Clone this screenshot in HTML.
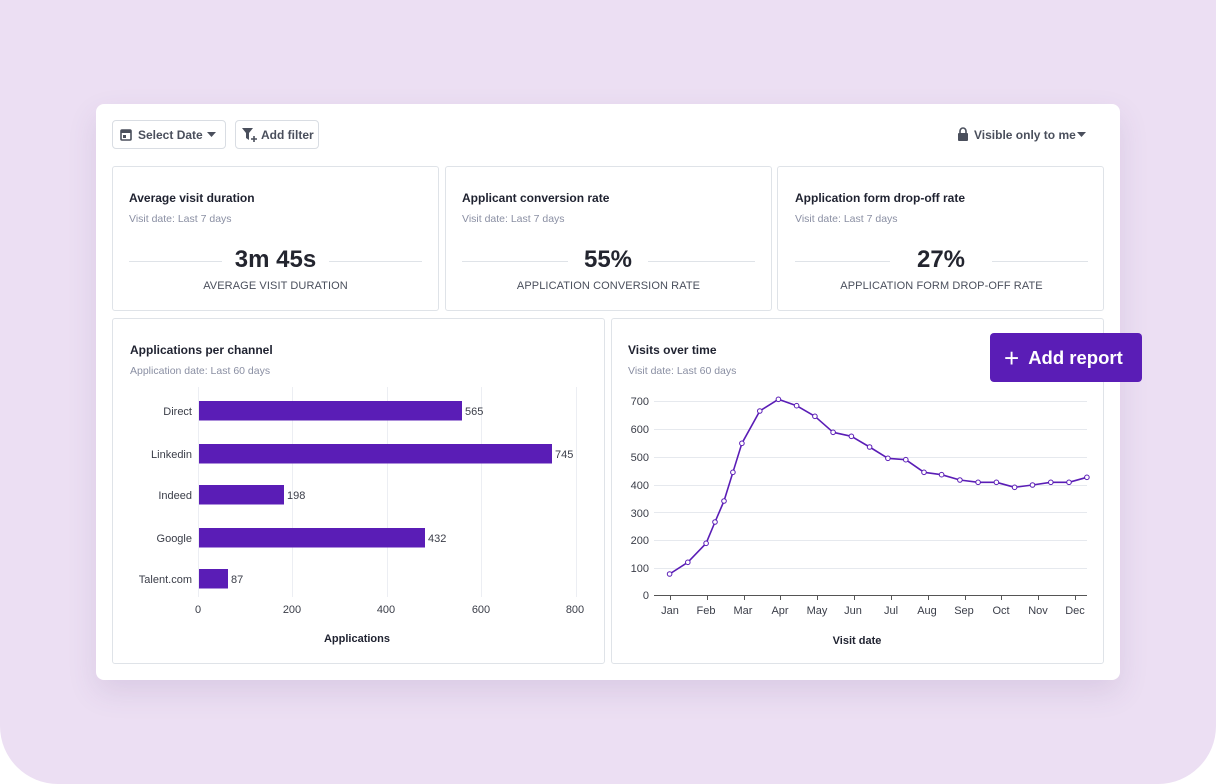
<!DOCTYPE html>
<html><head><meta charset="utf-8"><style>
html,body{margin:0;padding:0;width:1216px;height:784px;background:#fff;overflow:hidden}
body{font-family:"Liberation Sans",sans-serif;position:relative}
.bg{position:absolute;left:0;top:0;width:1216px;height:784px;background:#ecdff3;border-radius:0 0 58px 58px}
.card{position:absolute;left:96px;top:104px;width:1024px;height:576px;background:#fff;border-radius:8px;box-shadow:0 12px 30px rgba(90,60,120,.12)}
.btn{position:absolute;top:120px;height:29px;border:1px solid #d9dde3;border-radius:4px;background:#fff;font-size:12px;color:#4a4f5c;font-weight:bold;line-height:29px;box-sizing:border-box}
.box{position:absolute;border:1px solid #dfe3e8;border-radius:3px;background:#fff;box-sizing:border-box}
.t{position:absolute;font-size:12px;font-weight:bold;color:#1f2230}
.s{position:absolute;font-size:10.5px;color:#8a8fa3}
.big{position:absolute;font-size:24px;font-weight:bold;color:#23252f;text-align:center}
.lab{position:absolute;font-size:11px;color:#4a4f5c;text-align:center;letter-spacing:.1px}
.hl{position:absolute;height:1px;background:#dfe3e8}
.add{position:absolute;left:990px;top:333px;width:152px;height:49px;background:#5a1db6;border-radius:4px;color:#fff;font-size:18.5px;font-weight:bold;line-height:49px;box-sizing:border-box;padding-left:14px}
</style></head><body>
<div class="bg"></div>
<div class="card"></div>
<div class="btn" style="left:112px;width:114px;padding-left:25px">Select Date</div>
<svg style="position:absolute;left:120px;top:128px" width="12" height="13"><rect x="1" y="2" width="10" height="10" rx="1" fill="none" stroke="#4a4f5c" stroke-width="1.6"/><rect x="1" y="2" width="10" height="3" fill="#4a4f5c"/><rect x="3" y="7" width="3" height="3" fill="#4a4f5c"/></svg>
<svg style="position:absolute;left:207px;top:132px" width="10" height="6"><path d="M0 0h9L4.5 5z" fill="#4a4f5c"/></svg>
<div class="btn" style="left:235px;width:84px;padding-left:25px">Add filter</div>
<svg style="position:absolute;left:242px;top:127px" width="16" height="16"><path d="M0 1h11L7 6v7L4 11V6z" fill="#4a4f5c"/><path d="M12 9v6M9 12h6" stroke="#4a4f5c" stroke-width="1.6"/></svg>
<svg style="position:absolute;left:957px;top:127px" width="12" height="15"><path d="M3 6V4a3 3 0 0 1 6 0v2" fill="none" stroke="#4a4f5c" stroke-width="1.6"/><rect x="1" y="6" width="10" height="8" rx="1" fill="#4a4f5c"/></svg>
<div style="position:absolute;left:974px;top:128px;font-size:12px;font-weight:bold;color:#4a4f5c">Visible only to me</div>
<svg style="position:absolute;left:1077px;top:132px" width="10" height="6"><path d="M0 0h9L4.5 5z" fill="#4a4f5c"/></svg>

<div class="box" style="left:112px;top:166px;width:327px;height:145px"></div>
<div class="box" style="left:445px;top:166px;width:327px;height:145px"></div>
<div class="box" style="left:777px;top:166px;width:327px;height:145px"></div>
<div class="t" style="left:129px;top:191px">Average visit duration</div>
<div class="s" style="left:129px;top:213px">Visit date: Last 7 days</div>
<div class="hl" style="left:129px;top:261px;width:293px"></div>
<div class="big" style="left:222px;top:246px;width:107px;background:#fff">3m 45s</div>
<div class="lab" style="left:129px;top:280px;width:293px">AVERAGE VISIT DURATION</div>
<div class="t" style="left:462px;top:191px">Applicant conversion rate</div>
<div class="s" style="left:462px;top:213px">Visit date: Last 7 days</div>
<div class="hl" style="left:462px;top:261px;width:293px"></div>
<div class="big" style="left:568px;top:246px;width:80px;background:#fff">55%</div>
<div class="lab" style="left:462px;top:280px;width:293px">APPLICATION CONVERSION RATE</div>
<div class="t" style="left:795px;top:191px">Application form drop-off rate</div>
<div class="s" style="left:795px;top:213px">Visit date: Last 7 days</div>
<div class="hl" style="left:795px;top:261px;width:293px"></div>
<div class="big" style="left:890px;top:246px;width:102px;background:#fff">27%</div>
<div class="lab" style="left:795px;top:280px;width:293px">APPLICATION FORM DROP-OFF RATE</div>

<div class="box" style="left:112px;top:318px;width:493px;height:346px"></div>
<div class="box" style="left:611px;top:318px;width:493px;height:346px"></div>
<div class="t" style="left:130px;top:343px">Applications per channel</div>
<div class="s" style="left:130px;top:365px">Application date: Last 60 days</div>
<div class="t" style="left:628px;top:343px">Visits over time</div>
<div class="s" style="left:628px;top:365px">Visit date: Last 60 days</div>

<svg style="position:absolute;left:0;top:0" width="1216" height="784" font-family="Liberation Sans, sans-serif" font-size="11" fill="#3a3d48">
<g stroke="#eceef3" stroke-width="1">
<line x1="198.5" y1="387" x2="198.5" y2="597"/><line x1="292.5" y1="387" x2="292.5" y2="597"/><line x1="387.5" y1="387" x2="387.5" y2="597"/><line x1="481.5" y1="387" x2="481.5" y2="597"/><line x1="576.5" y1="387" x2="576.5" y2="597"/>
</g>
<g fill="#5a1db6">
<rect x="199" y="401" width="263" height="19.5"/>
<rect x="199" y="444" width="353" height="19.5"/>
<rect x="199" y="485" width="85" height="19.5"/>
<rect x="199" y="528" width="226" height="19.5"/>
<rect x="199" y="569" width="29" height="19.5"/>
</g>
<g text-anchor="end"><text x="192" y="415">Direct</text><text x="192" y="458">Linkedin</text><text x="192" y="499">Indeed</text><text x="192" y="542">Google</text><text x="192" y="583">Talent.com</text></g>
<text x="465" y="415">565</text><text x="555" y="458">745</text><text x="287" y="499">198</text><text x="428" y="542">432</text><text x="231" y="583">87</text>
<g text-anchor="middle"><text x="198" y="613">0</text><text x="292" y="613">200</text><text x="386" y="613">400</text><text x="481" y="613">600</text><text x="575" y="613">800</text>
<text x="357" y="642" font-weight="bold" fill="#1f2230">Applications</text></g>

<g stroke="#e6e9ee" stroke-width="1">
<line x1="654" y1="401.5" x2="1087" y2="401.5"/><line x1="654" y1="429.5" x2="1087" y2="429.5"/><line x1="654" y1="457.5" x2="1087" y2="457.5"/><line x1="654" y1="485.5" x2="1087" y2="485.5"/><line x1="654" y1="512.5" x2="1087" y2="512.5"/><line x1="654" y1="540.5" x2="1087" y2="540.5"/><line x1="654" y1="568.5" x2="1087" y2="568.5"/>
</g>
<line x1="654" y1="595.5" x2="1087" y2="595.5" stroke="#555" stroke-width="1"/>
<g stroke="#555"><line x1="670.5" y1="595" x2="670.5" y2="600"/><line x1="707.5" y1="595" x2="707.5" y2="600"/><line x1="744.5" y1="595" x2="744.5" y2="600"/><line x1="780.5" y1="595" x2="780.5" y2="600"/><line x1="817.5" y1="595" x2="817.5" y2="600"/><line x1="854.5" y1="595" x2="854.5" y2="600"/><line x1="891.5" y1="595" x2="891.5" y2="600"/><line x1="928.5" y1="595" x2="928.5" y2="600"/><line x1="965.5" y1="595" x2="965.5" y2="600"/><line x1="1001.5" y1="595" x2="1001.5" y2="600"/><line x1="1038.5" y1="595" x2="1038.5" y2="600"/><line x1="1075.5" y1="595" x2="1075.5" y2="600"/></g>
<g text-anchor="end"><text x="649" y="405">700</text><text x="649" y="433">600</text><text x="649" y="461">500</text><text x="649" y="489">400</text><text x="649" y="517">300</text><text x="649" y="544">200</text><text x="649" y="572">100</text><text x="649" y="599">0</text></g>
<g text-anchor="middle"><text x="670" y="614">Jan</text><text x="706" y="614">Feb</text><text x="743" y="614">Mar</text><text x="780" y="614">Apr</text><text x="817" y="614">May</text><text x="853" y="614">Jun</text><text x="891" y="614">Jul</text><text x="927" y="614">Aug</text><text x="964" y="614">Sep</text><text x="1001" y="614">Oct</text><text x="1038" y="614">Nov</text><text x="1075" y="614">Dec</text>
<text x="857" y="644" font-weight="bold" fill="#1f2230">Visit date</text></g>
<polyline fill="none" stroke="#5a1db6" stroke-width="1.6" stroke-linejoin="round" points="669.6,574 687.8,562.3 706.1,543.3 715,522 724,501 732.9,472.3 741.9,443.3 759.8,411 778.4,399.3 796.6,405.7 814.9,416.3 833.1,432.3 851.4,436.3 869.6,447 887.9,458.3 905.8,459.7 924,472.3 941.6,474.7 959.9,480 978.1,482.3 996.4,482.3 1014.6,487.3 1032.5,485 1050.8,482.3 1069,482.3 1086.9,477.3"/>
<g fill="#fff" stroke="#5a1db6" stroke-width="1">
<circle cx="669.6" cy="574" r="2.3"/><circle cx="687.8" cy="562.3" r="2.3"/><circle cx="706.1" cy="543.3" r="2.3"/><circle cx="715" cy="522" r="2.3"/><circle cx="724" cy="501" r="2.3"/><circle cx="732.9" cy="472.3" r="2.3"/><circle cx="741.9" cy="443.3" r="2.3"/><circle cx="759.8" cy="411" r="2.3"/><circle cx="778.4" cy="399.3" r="2.3"/><circle cx="796.6" cy="405.7" r="2.3"/><circle cx="814.9" cy="416.3" r="2.3"/><circle cx="833.1" cy="432.3" r="2.3"/><circle cx="851.4" cy="436.3" r="2.3"/><circle cx="869.6" cy="447" r="2.3"/><circle cx="887.9" cy="458.3" r="2.3"/><circle cx="905.8" cy="459.7" r="2.3"/><circle cx="924" cy="472.3" r="2.3"/><circle cx="941.6" cy="474.7" r="2.3"/><circle cx="959.9" cy="480" r="2.3"/><circle cx="978.1" cy="482.3" r="2.3"/><circle cx="996.4" cy="482.3" r="2.3"/><circle cx="1014.6" cy="487.3" r="2.3"/><circle cx="1032.5" cy="485" r="2.3"/><circle cx="1050.8" cy="482.3" r="2.3"/><circle cx="1069" cy="482.3" r="2.3"/><circle cx="1086.9" cy="477.3" r="2.3"/>
</g>
</svg>
<div class="add"><span style="font-size:26px;font-weight:normal;vertical-align:-3px;margin-right:9px">+</span>Add report</div>
</body></html>
